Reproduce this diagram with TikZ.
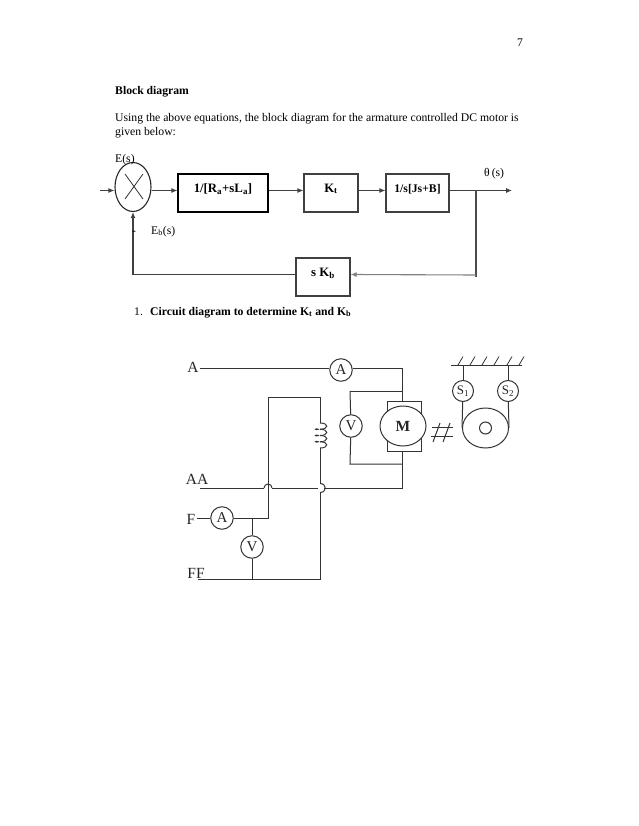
\documentclass[tikz,border=0pt]{standalone}
\usepackage{fontspec}
\setmainfont{Liberation Serif}
\usepackage{tikz}
\usetikzlibrary{arrows.meta, shapes.geometric}
\tikzset{
  txt/.style={anchor=base west, inner sep=0pt, font=\fontsize{11.7}{12}\selectfont},
  btxt/.style={anchor=base west, inner sep=0pt, font=\fontsize{11.7}{12}\selectfont\bfseries},
  lbl/.style={inner sep=0pt, font=\fontsize{15.5}{16}\selectfont, text=black!85},
  blockbox/.style={draw=black!75, line width=1.1pt, minimum height=38pt},
  flow/.style={draw=black!75, line width=1.1pt, -{Latex[length=6pt,width=5pt]}},
  wire/.style={draw=black!80, line width=1pt},
  meter/.style={draw=black!80, circle, line width=1pt, minimum size=22.5pt, inner sep=0pt, fill=white, font=\fontsize{15}{16}\selectfont, text=black!85}
}
\begin{document}
\begin{tikzpicture}[x=1pt,y=-1pt]
  \useasboundingbox (0,0) rectangle (638,826);
  % texte de la page
  \node[txt] (page) at (517,47) {7};
  \node[btxt] (title) at (115,95) {Block diagram};
  \node[txt] (intro) at (115,122) {Using the above equations, the block diagram for the armature controlled DC motor is};
  \node[txt] (introb) at (115,135.5) {given below:};
  \node[txt] (num) at (134,315) {1.};
  \node[btxt] (item) at (150,315) {Circuit diagram to determine K\textsubscript{t} and K\textsubscript{b}};

  % schema bloc
  \node[draw=black!85, ellipse, line width=1.1pt, minimum width=36pt, minimum height=49pt, inner sep=0pt] (sum) at (133,187) {};
  \draw[black!80, line width=0.8pt] (125,174) -- (143,199);
  \draw[black!80, line width=0.8pt] (143,174) -- (125,199);
  \node[blockbox, draw=black, minimum width=90pt, text depth=10pt, font=\fontsize{12.8}{13}\selectfont\bfseries] (G1) at (223,193) {1/[R\textsubscript{a}+sL\textsubscript{a}]};
  \node[blockbox, minimum width=54pt, text depth=10pt, font=\fontsize{12.8}{13}\selectfont\bfseries] (Kt) at (331,193) {K\textsubscript{t}};
  \node[blockbox, minimum width=63pt, text depth=10pt, font=\fontsize{11.7}{12}\selectfont\bfseries] (G3) at (417.5,193) {1/s[Js+B]};
  \node[blockbox, minimum width=54pt, text depth=10pt, font=\fontsize{12.8}{13}\selectfont\bfseries] (Kb) at (323,277) {s K\textsubscript{b}};
  \coordinate (in) at (100,190.5);
  \coordinate (out) at (512,190.5);
  \coordinate (branch) at (476,190.5);
  \coordinate (branchb) at (476,277);
  \coordinate (corner) at (133,274.5);
  \draw[flow] (in) -- (sum.west |- in);
  \draw[flow] (sum.east |- in) -- (G1.west |- in);
  \draw[flow] (G1.east |- in) -- (Kt.west |- in);
  \draw[flow] (Kt.east |- in) -- (G3.west |- in);
  \draw[flow] (G3.east |- in) -- (out);
  \draw[draw=black!70, line width=1.1pt] (branch) -- (branchb);
  \draw[flow, draw=black!50] (476,275) -- (Kb.east |- corner);
  \draw[flow] (Kb.west |- corner) -- (corner) -- (sum.south);
  \node[txt] (Es) at (115,163) {E(s)};
  \node[txt] (theta) at (484,177) {θ\,(s)};
  \node[txt] (minus) at (132,234) {-};
  \node[txt] (Eb) at (151,234) {E\textsubscript{b}(s)};

  % circuit
  \node[lbl] (LA) at (193,367) {A};
  \node[lbl] (LAA) at (197,479) {AA};
  \node[lbl] (LF) at (191,519) {F};
  \node[lbl] (LFF) at (196,573) {FF};
  \node[meter] (mA) at (341,370) {A};
  \node[meter] (mV) at (351,426) {V};
  \node[meter] (fA) at (222,518) {A};
  \node[meter] (fV) at (252,547) {V};
  \node[draw=black!80, line width=1pt, minimum width=34pt, minimum height=50pt, inner sep=0pt] (brush) at (404,426) {};
  \node[draw=black!80, ellipse, line width=1pt, fill=white, minimum width=46pt, minimum height=40pt, inner sep=0pt, font=\fontsize{15.5}{16}\selectfont\bfseries, text=black!85] (M) at (403,426) {M};
  \coordinate (Astart) at (200,368);
  \coordinate (Atop) at (402,368);
  \coordinate (Abot) at (402,488);
  \coordinate (AAstart) at (200,488);
  \coordinate (Vtl) at (350,391);
  \coordinate (Vbl) at (350,464);
  \coordinate (Ftop) at (268,397);
  \coordinate (Ltop) at (320,397);
  \coordinate (Fstart) at (197,518);
  \coordinate (Fjoin) at (268,518);
  \coordinate (Vjoin) at (252,518);
  \coordinate (FFstart) at (198,579);
  \coordinate (FFend) at (320,579);
  \coordinate (Vfoot) at (252,579);
  \draw[wire] (Astart) -- (mA.west |- Astart);
  \draw[wire] (mA.east |- Atop) -- (Atop) -- (Atop |- brush.north);
  \draw[wire] (Atop |- brush.south) -- (Abot) -- (324,488);
  \draw[wire] (318,488) -- (272,488);
  \draw[wire] (264,488) -- (AAstart);
  \draw[wire] (272,488) arc[start angle=0, end angle=-180, radius=4];
  \draw[wire] (Vtl) -- (Vtl -| Atop);
  \draw[wire] (Vtl) -- (mV);
  \draw[wire] (mV) -- (Vbl) -- (Vbl -| Atop);
  \draw[wire] (Fstart) -- (fA);
  \draw[wire] (fA) -- (Fjoin) -- (Ftop) -- (Ltop) -- (320,423);
  \draw[wire] (Vjoin) -- (fV);
  \draw[wire] (fV) -- (Vfoot);
  \draw[wire] (FFstart) -- (FFend) -- (320,492.5);
  \draw[wire] (320,483.5) .. controls (327,483.5) and (327,492.5) .. (320,492.5);
  \draw[wire] (320,483.5) -- (320,448);
  % bobine
  \foreach \y in {423,429.25,435.5,441.75}
    \draw[wire] (320,\y) .. controls (329,\y) and (329,\y+6.25) .. (320,\y+6.25);
  \foreach \y in {429.25,435.5,441.75}
    \draw[wire, line width=0.7pt] (319,\y) .. controls (314,\y-2) and (314,\y+2) .. (319,\y);
  % accouplement
  \draw[wire] (432,427) -- (453,427);
  \draw[wire] (431,436) -- (453,436);
  \draw[wire] (433,442) -- (440,423);
  \draw[wire] (443,442) -- (450,423);
  % tambour
  \node[meter, minimum size=21pt, font=\fontsize{13}{14}\selectfont] (S1) at (463,391) {S\textsubscript{1}};
  \node[meter, minimum size=21pt, font=\fontsize{13}{14}\selectfont] (S2) at (508,391) {S\textsubscript{2}};
  \node[draw=black!80, ellipse, line width=1pt, minimum width=46pt, minimum height=40pt, inner sep=0pt] (drum) at (485.5,428) {};
  \node[draw=black!80, circle, line width=1pt, minimum size=12pt, inner sep=0pt] (hub) at (485.5,428) {};
  \coordinate (ceilA) at (451,365);
  \coordinate (ceilB) at (522,365);
  \draw[wire] (ceilA) -- (ceilB);
  \foreach \x in {458,470,482,494,507,519}
    \draw[wire, line width=0.8pt] (\x,365) -- (\x+5,356.5);
  \draw[wire] (463,365) -- (S1);
  \draw[wire] (S1) -- (drum.west);
  \draw[wire] (508,365) -- (S2);
  \draw[wire] (S2) -- (drum.east);
\end{tikzpicture}
\end{document}
